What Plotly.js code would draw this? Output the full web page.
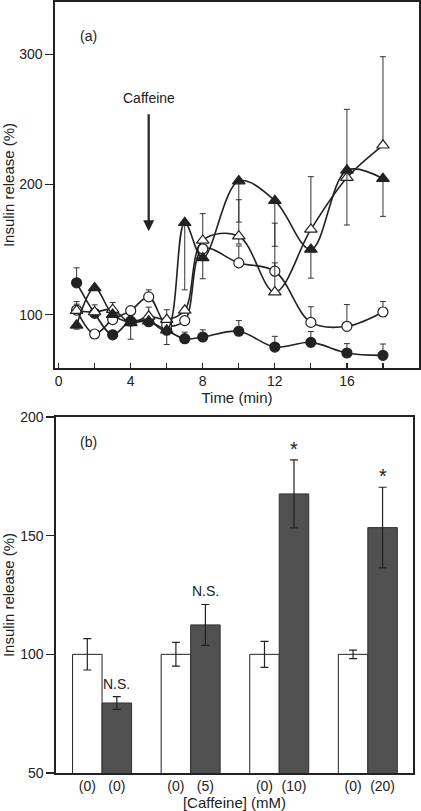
<!DOCTYPE html>
<html>
<head>
<meta charset="utf-8">
<script src="https://cdn.plot.ly/plotly-3.0.1.min.js"></script>
<style>html,body{margin:0;padding:0;background:#fff;}#chart{width:421px;height:811px;}</style>
</head>
<body>
<div id="chart"></div>
<script>
// ---------- Panel (a): time course ----------
const time = [1, 2, 3, 4, 5, 6, 7, 8, 10, 12, 14, 16, 18];
const timeTickVals = [0, 2, 4, 6, 8, 10, 12, 14, 16, 18];
const timeTickText = ['0', '', '4', '', '8', '', '12', '', '16', ''];

const filledCircle        = [124.4, 101, 84.5, 95, 94.5, 88, 81.5, 82.8, 87.2, 75.1, 78.7, 70.5, 68.7];
const filledCircleErrUp   = [11.5, 0, 0, 0, 0, 0, 5, 5.5, 8.2, 8.2, 8.3, 7.2, 8.7];
const filledCircleErrDown = [0, 0, 0, 0, 0, 11, 0, 0, 0, 0, 0, 0, 0];

const openCircle          = [103.5, 85.1, 96.2, 103, 113.6, 92, 95.4, 150.5, 139.7, 133.3, 94, 91, 102];
const openCircleErrUp     = [6.5, 0, 0, 0, 5.4, 0, 0, 0, 13, 6.4, 12, 16.7, 8];
const openCircleErrDown   = [0, 0, 0, 0, 0, 0, 0, 0, 0, 0, 0, 0, 0];

const filledTri           = [91.8, 120.5, 100, 94, 95, 88, 170.5, 143.5, 202.5, 187.5, 150, 210.8, 204.4];
const filledTriErrUp      = [0, 0, 0, 0, 0, 0, 0, 0, 0, 0, 0, 0, 0];
const filledTriErrDown    = [3, 0, 0, 0, 0, 0, 51.5, 16, 31.5, 35, 22, 42, 29];

const openTri             = [103, 102, 103.8, 93.6, 98.7, 96.2, 103.3, 157, 160.2, 117.2, 165.4, 205.1, 230];
const openTriErrUp        = [5, 5.5, 5.5, 0, 7, 7.5, 2, 20.5, 28, 53, 40.5, 52.5, 68];
const openTriErrDown      = [0, 0, 0, 12.5, 0, 0, 0, 0, 6, 0, 0, 0, 0];

// ---------- Panel (b): bar chart ----------
const groups = [0, 1, 2, 3];
const controlLabels = ['(0)', '(0)', '(0)', '(0)'];
const caffeineLabels = ['(0)', '(5)', '(10)', '(20)'];
const controlVals = [100, 100, 100, 100];
const controlErr = [6.6, 5, 5.5, 1.8];
const caffeineVals = [79.5, 112.4, 167.6, 153.4];
const caffeineErr = [2.7, 8.6, 14.3, 17];
const sigLabels = ['N.S.', 'N.S.', '*', '*'];

const FONT = 'Liberation Sans, Arial, Helvetica, sans-serif';
const INK = '#222';

function lineTrace(y, up, down, symbol, fill) {
  return {
    x: time, y: y, type: 'scatter', mode: 'lines+markers', xaxis: 'x', yaxis: 'y',
    line: {color: INK, width: 1.6, shape: 'spline', smoothing: 1},
    marker: {symbol: symbol, size: symbol.indexOf('triangle') === 0 ? 11 : 10,
             color: fill, line: {color: INK, width: 1.2}},
    error_y: {type: 'data', symmetric: false, array: up, arrayminus: down,
              color: '#333', thickness: 1, width: 3},
    hoverinfo: 'skip'
  };
}

const traces = [
  lineTrace(filledCircle, filledCircleErrUp, filledCircleErrDown, 'circle', INK),
  lineTrace(openCircle, openCircleErrUp, openCircleErrDown, 'circle', '#fff'),
  lineTrace(openTri, openTriErrUp, openTriErrDown, 'triangle-up', '#fff'),
  lineTrace(filledTri, filledTriErrUp, filledTriErrDown, 'triangle-up', INK),
  {
    x: groups, y: controlVals, type: 'bar', xaxis: 'x2', yaxis: 'y2',
    marker: {color: '#fff', line: {color: INK, width: 1}},
    error_y: {type: 'data', array: controlErr, color: INK, thickness: 1.2, width: 4},
    hoverinfo: 'skip'
  },
  {
    x: groups, y: caffeineVals, type: 'bar', xaxis: 'x2', yaxis: 'y2',
    marker: {color: '#505050', line: {color: '#333', width: 1}},
    error_y: {type: 'data', array: caffeineErr, color: INK, thickness: 1.2, width: 4},
    hoverinfo: 'skip'
  }
];

const half = 0.1667;
const barTickVals = [];
const barTickText = [];
groups.forEach(function (g, i) {
  barTickVals.push(g - half, g + half);
  barTickText.push(controlLabels[i], caffeineLabels[i]);
});

const annotations = [
  {xref: 'paper', yref: 'paper', x: 78 / 421, y: 1 - 26 / 811, text: '(a)', showarrow: false,
   font: {family: FONT, size: 14, color: INK}},
  {xref: 'paper', yref: 'paper', x: 78 / 421, y: 1 - 442 / 811, text: '(b)', showarrow: false,
   font: {family: FONT, size: 14, color: INK}},
  {xref: 'x', yref: 'y', x: 5, y: 266, text: 'Caffeine', showarrow: false,
   font: {family: FONT, size: 14, color: INK}},
  {xref: 'x', yref: 'y', axref: 'x', ayref: 'y', x: 5, y: 164, ax: 5, ay: 255, text: '',
   showarrow: true, arrowhead: 2, arrowsize: 1, arrowwidth: 2.2, arrowcolor: INK}
];
groups.forEach(function (g, i) {
  const star = sigLabels[i] === '*';
  annotations.push({
    xref: 'x2', yref: 'y2', x: g + half, y: caffeineVals[i] + caffeineErr[i],
    text: sigLabels[i], showarrow: false, yanchor: 'bottom', yshift: star ? -2 : 3,
    font: {family: FONT, size: star ? 20 : 14, color: INK}
  });
});

const axisCommon = {
  showline: true, mirror: true, linecolor: INK, linewidth: 1.6,
  showgrid: false, zeroline: false, tickcolor: INK, tickwidth: 1.2,
  tickfont: {family: FONT, size: 14, color: INK}
};

const layout = {
  width: 421, height: 811,
  margin: {l: 0, r: 0, t: 0, b: 0},
  paper_bgcolor: '#fff', plot_bgcolor: '#fff',
  showlegend: false,
  font: {family: FONT, color: INK},
  barmode: 'group', bargap: 0.334, bargroupgap: 0,
  xaxis: Object.assign({}, axisCommon, {
    domain: [55 / 421, 419 / 421], range: [-0.2, 20], anchor: 'y',
    tickmode: 'array', tickvals: timeTickVals, ticktext: timeTickText,
    ticks: 'inside', ticklen: 5,
    title: {text: 'Time (min)', font: {family: FONT, size: 15, color: INK}, standoff: 4}
  }),
  yaxis: Object.assign({}, axisCommon, {
    domain: [1 - 368 / 811, 1 - 2 / 811], range: [59, 340], anchor: 'x',
    tickmode: 'array', tickvals: [100, 200, 300],
    ticks: 'outside', ticklen: 8,
    title: {text: 'Insulin release (%)', font: {family: FONT, size: 15, color: INK}, standoff: 5}
  }),
  xaxis2: Object.assign({}, axisCommon, {
    domain: [56 / 421, 413 / 421], range: [-0.52, 3.51], anchor: 'y2',
    tickmode: 'array', tickvals: barTickVals, ticktext: barTickText,
    ticks: '',
    title: {text: '[Caffeine] (mM)', font: {family: FONT, size: 15, color: INK}, standoff: 4}
  }),
  yaxis2: Object.assign({}, axisCommon, {
    domain: [1 - 773 / 811, 1 - 417 / 811], range: [50, 200], anchor: 'x2',
    tickmode: 'array', tickvals: [50, 100, 150, 200],
    ticks: 'outside', ticklen: 8,
    title: {text: 'Insulin release (%)', font: {family: FONT, size: 15, color: INK}, standoff: 5}
  }),
  annotations: annotations
};

Plotly.newPlot('chart', traces, layout, {staticPlot: true, displayModeBar: false});
</script>
</body>
</html>
